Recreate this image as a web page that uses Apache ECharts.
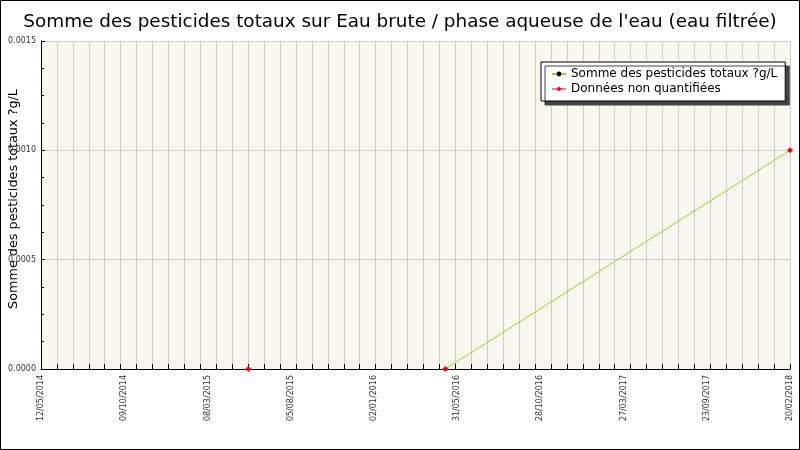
<!DOCTYPE html>
<html><head><meta charset="utf-8">
<script src="https://cdn.jsdelivr.net/npm/echarts@6/dist/echarts.min.js"></script>
<style>html,body{margin:0;padding:0;background:#fff}#c{width:800px;height:450px}</style>
</head><body><div id="c"></div>
<script>
var titleText = "Somme des pesticides totaux sur Eau brute / phase aqueuse de l'eau (eau filtrée)";
var yAxisName = "Somme des pesticides totaux ?g/L";
var seriesNames = ["Somme des pesticides totaux ?g/L", "Données non quantifiées"];
var axisStart = "2014-05-12";
var axisEnd = "2018-02-20";
var tickLabels = ["12/05/2014","09/10/2014","08/03/2015","05/08/2015","02/01/2016","31/05/2016","28/10/2016","27/03/2017","23/09/2017","20/02/2018"];
var sampleDates = ["2016-05-26","2018-02-20"];
var totalValues = [0, 0.001];
var nonQuantDates = ["2015-05-29","2016-05-26","2018-02-20"];
var nonQuantValues = [0, 0, 0.001];
var yTicks = [0, 0.0005, 0.0010, 0.0015];

function dayOf(s){ return Math.round((Date.parse(s) - Date.parse(axisStart)) / 86400000); }
var xMax = dayOf(axisEnd);
var labelInterval = xMax / (tickLabels.length - 1);
var gridInterval = xMax / 47;

var chart = echarts.init(document.getElementById('c'), null, {renderer:'canvas'});
var font = 'DejaVu Sans';
chart.setOption({
  animation:false,
  backgroundColor:'#ffffff',
  textStyle:{fontFamily:font},
  title:{text:titleText, left:'center', top:8, textStyle:{fontSize:18.4, fontWeight:'normal', color:'#000', fontFamily:font}},
  grid:{left:41, right:10, top:41, bottom:81, show:true, backgroundColor:'#f8f8f0', borderWidth:0, containLabel:false, outerBoundsMode:'none'},
  legend:{
    orient:'vertical', left:541, top:62,
    padding:[6,8,6,10], itemGap:3, itemWidth:14, itemHeight:6,
    backgroundColor:'#ffffff', borderColor:'#000', borderWidth:1,
    shadowColor:'#444', shadowOffsetX:4, shadowOffsetY:4, shadowBlur:0,
    textStyle:{fontSize:12, color:'#000', fontFamily:font},
    data:[{name:seriesNames[0]},{name:seriesNames[1], lineStyle:{opacity:1, color:'#ff0000', width:1}}]
  },
  xAxis:[{
    type:'value', min:0, max:xMax, interval:gridInterval, z:0,
    axisLine:{show:false}, axisLabel:{show:false},
    axisTick:{show:true, inside:true, length:5, lineStyle:{color:'#000'}},
    splitLine:{show:true, lineStyle:{color:'#cccccc', width:1}}
  },{
    type:'value', min:0, max:xMax, interval:labelInterval, position:'bottom', z:5,
    axisLine:{show:true, lineStyle:{color:'#000', width:1}},
    axisTick:{show:false}, splitLine:{show:false},
    axisLabel:{rotate:90, margin:6, fontSize:8, color:'#333', fontFamily:font,
      formatter:function(v){ var i=Math.round(v/labelInterval); return tickLabels[i]||''; }}
  }],
  yAxis:{
    type:'value', min:yTicks[0], max:yTicks[yTicks.length-1], interval:yTicks[1]-yTicks[0],
    name:yAxisName, nameLocation:'middle', nameGap:21, nameMoveOverlap:false,
    nameTextStyle:{fontSize:12.8, color:'#000', fontFamily:font, padding:[0,0,0,12]},
    axisLine:{show:true, lineStyle:{color:'#000'}},
    axisTick:{show:true, inside:true, length:4, lineStyle:{color:'#000'}},
    minorTick:{show:true, splitNumber:4, length:3, lineStyle:{color:'#000'}},
    axisLabel:{fontSize:8, color:'#333', margin:5, fontFamily:font, formatter:function(v){return v.toFixed(4);}},
    splitLine:{show:true, lineStyle:{color:'#cccccc'}}
  },
  series:[{
    name:seriesNames[0], type:'line', xAxisIndex:0, z:2,
    data:sampleDates.map(function(d,i){return [dayOf(d), totalValues[i]];}),
    lineStyle:{color:'#a8cc28', width:1}, itemStyle:{color:'#000'},
    symbol:'circle', symbolSize:2, showSymbol:true
  },{
    name:seriesNames[1], type:'line', xAxisIndex:0, z:6,
    data:nonQuantDates.map(function(d,i){return [dayOf(d), nonQuantValues[i]];}),
    lineStyle:{color:'#ff0000', width:1, opacity:0}, itemStyle:{color:'#ff0000'},
    symbol:'diamond', symbolSize:6, showSymbol:true
  }],
  graphic:[{type:'rect', shape:{x:0.5,y:0.5,width:799,height:449}, style:{fill:'none', stroke:'#000', lineWidth:1}, z:100}]
});
</script></body></html>
